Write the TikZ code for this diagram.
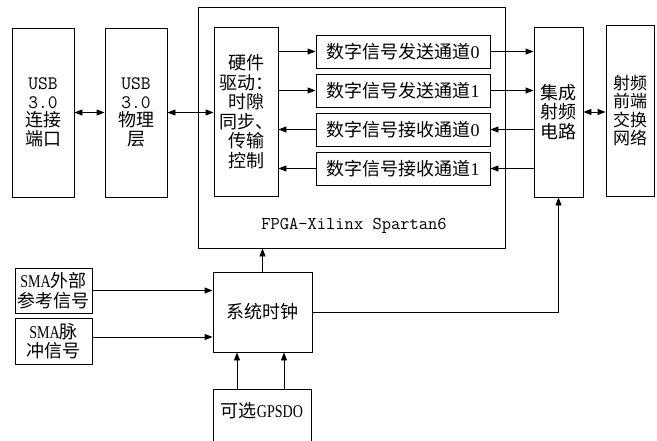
\documentclass[tikz,border=0pt]{standalone}
\usepackage{fontspec}
\setmainfont{Liberation Serif}
\newfontfamily\cjk{Noto Sans CJK SC}
\newfontfamily\narrow[FakeStretch=0.78]{Liberation Serif}
\usetikzlibrary{arrows.meta}
\begin{document}
\begin{tikzpicture}[x=1pt,y=-1pt,
  box/.style={draw, line width=0.9pt, inner sep=0pt, align=center,
    font=\cjk\fontsize{18}{19.5}\selectfont},
  arr/.style={-{Triangle[length=8pt,width=6pt]}, line width=0.9pt},
  darr/.style={{Triangle[length=8pt,width=6pt]}-{Triangle[length=8pt,width=6pt]}, line width=0.9pt}]
\useasboundingbox (0,0) rectangle (657,440);

% left USB boxes
\node[box, minimum width=62, minimum height=169, font=\cjk\fontsize{18}{18.5}\selectfont] (usb1) at (43,112.5)
  {{\ttfamily\fontsize{19}{18.5}\selectfont USB}\\{\ttfamily\fontsize{19}{18.5}\selectfont 3.0}\\连接\\端口};
\node[box, minimum width=62, minimum height=169, font=\cjk\fontsize{18}{18.5}\selectfont] (usb2) at (136,112.5)
  {{\ttfamily\fontsize{19}{18.5}\selectfont USB}\\{\ttfamily\fontsize{19}{18.5}\selectfont 3.0}\\物理\\层};

% FPGA
\node[draw, line width=0.9pt, minimum width=307, minimum height=241, inner sep=0pt] (fpga) at (351.5,127.5) {};
\node[font=\ttfamily\fontsize{18}{20}\selectfont, inner sep=0pt] (fpgalabel) at (354,226) {FPGA-Xilinx Spartan6};
\node[box, minimum width=64, minimum height=169] (drv) at (246,111.5)
  {硬件\\驱动：\\时隙\\同步、\\传输\\控制};

\node[box, minimum width=174, minimum height=33] (ch0) at (403,51.5) {数字信号发送通道{\rmfamily 0}};
\node[box, minimum width=174, minimum height=33] (ch1) at (403,90.5) {数字信号发送通道{\rmfamily 1}};
\node[box, minimum width=174, minimum height=33] (ch2) at (403,129.5) {数字信号接收通道{\rmfamily 0}};
\node[box, minimum width=174, minimum height=33] (ch3) at (403,168.5) {数字信号接收通道{\rmfamily 1}};

% RF
\node[box, minimum width=49, minimum height=170] (rf) at (558.5,112) {集成\\射频\\电路};
\node[box, minimum width=48, minimum height=171, font=\cjk\fontsize{17}{18.5}\selectfont] (fe) at (630,110.5) {射频\\前端\\交换\\网络};

% clock part
\node[box, minimum width=99, minimum height=80] (clk) at (262.5,312) {系统时钟};
\node[box, minimum width=77, minimum height=45] (sma1) at (53.5,290.5) {{\narrow SMA}外部\\参考信号};
\node[box, minimum width=77, minimum height=46] (sma2) at (53.5,341) {{\narrow SMA}脉\\冲信号};
\node[box, anchor=north, minimum width=98, minimum height=0pt, inner ysep=13pt] (gps) at (262,389)
  {可选{\narrow GPSDO}\rule[-45pt]{0pt}{0pt}};

% connectors
\draw[darr] (usb1.east) -- (usb2.west);
\draw[darr] (usb2.east) -- (usb2.east -| drv.west);
\draw[arr] (drv.east |- ch0.west) -- (ch0.west);
\draw[arr] (drv.east |- ch1.west) -- (ch1.west);
\draw[arr] (ch2.west) -- (ch2.west -| drv.east);
\draw[arr] (ch3.west) -- (ch3.west -| drv.east);
\draw[arr] (ch0.east) -- (ch0.east -| rf.west);
\draw[arr] (ch1.east) -- (ch1.east -| rf.west);
\draw[arr] (rf.west |- ch2.east) -- (ch2.east);
\draw[arr] (rf.west |- ch3.east) -- (ch3.east);
\draw[darr] (rf.east) -- (rf.east -| fe.west);

\draw[arr] (clk.north) -- (clk.north |- fpga.south);
\draw[arr] (sma1.east) -- (sma1.east -| clk.west);
\coordinate (s2) at ([yshift=4pt]sma2.east);
\draw[arr] (s2) -- (s2 -| clk.west);
\coordinate (g1) at ([xshift=-25pt]gps.north);
\coordinate (g2) at ([xshift=22pt]gps.north);
\draw[arr] (g1) -- (g1 |- clk.south);
\draw[arr] (g2) -- (g2 |- clk.south);
\draw[arr] (clk.east) -- (clk.east -| rf.south) -- (rf.south);
\end{tikzpicture}
\end{document}
